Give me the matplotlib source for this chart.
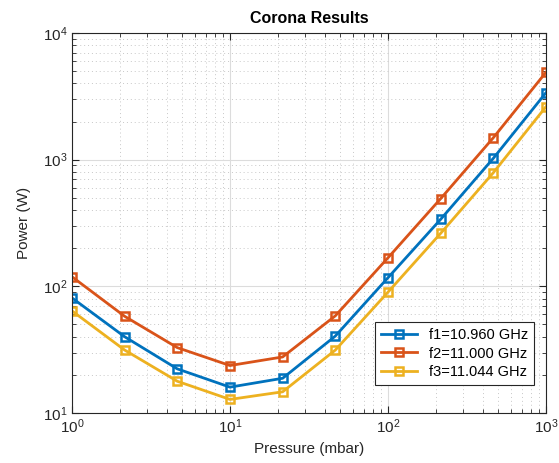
import numpy as np
import matplotlib
matplotlib.use("Agg")
import matplotlib.pyplot as plt
from matplotlib.ticker import LogLocator, NullFormatter

plt.rcParams['font.family'] = ['Liberation Sans', 'DejaVu Sans']

# Datos
pressure = [1, 2.154, 4.642, 10, 21.54, 46.42, 100, 215.4, 464.2, 1000]
p_f1 = [81, 40, 22.3, 16.0, 18.8, 40.5, 117, 338, 1025, 3380]
p_f2 = [119, 58, 32.8, 23.7, 27.7, 58.5, 168, 492, 1490, 4900]
p_f3 = [64, 31.4, 17.8, 12.8, 14.7, 31.4, 90, 262, 789, 2620]
labels = ['f1=10.960 GHz', 'f2=11.000 GHz', 'f3=11.044 GHz']
colores = ['#0072BD', '#D95319', '#EDB120']

fig = plt.figure(figsize=(5.59, 4.63), dpi=100)
ax = fig.add_axes([0.1288, 0.108, 0.8479, 0.8207])

for serie, lab, c in zip([p_f1, p_f2, p_f3], labels, colores):
    ax.plot(pressure, serie, '-s', color=c, lw=2, ms=5.5, mfc='none', mew=1.8, label=lab)

ax.set_xscale('log')
ax.set_yscale('log')
ax.set_xlim(1, 1000)
ax.set_ylim(10, 1e4)

ax.xaxis.set_minor_locator(LogLocator(base=10, subs=np.arange(2, 10)))
ax.yaxis.set_minor_locator(LogLocator(base=10, subs=np.arange(2, 10)))
ax.xaxis.set_minor_formatter(NullFormatter())
ax.yaxis.set_minor_formatter(NullFormatter())

ax.grid(True, which='major', color='#dcdcdc', lw=0.8, ls='-')
ax.grid(True, which='minor', color='#c8c8c8', lw=0.7, ls=(0, (1, 3)))
ax.set_axisbelow(True)

ax.tick_params(which='both', direction='in', top=True, right=True, labelsize=11, colors='#262626')
ax.tick_params(which='major', length=5)
ax.tick_params(which='minor', length=3)
for s in ax.spines.values():
    s.set_color('#262626')
    s.set_linewidth(0.8)

ax.set_xlabel('Pressure (mbar)', fontsize=11, color='#262626')
ax.set_ylabel('Power (W)', fontsize=11, color='#262626', labelpad=8)
ax.set_title('Corona Results', fontsize=11.5, fontweight='bold', pad=7)

leg = ax.legend(loc='lower right', bbox_to_anchor=(0.99, 0.055), fancybox=False,
                edgecolor='#262626', framealpha=1, fontsize=10.5, handlelength=2.5,
                borderpad=0.4, labelspacing=0.3)
leg.get_frame().set_linewidth(0.8)

fig.savefig('out.png', dpi=100)
